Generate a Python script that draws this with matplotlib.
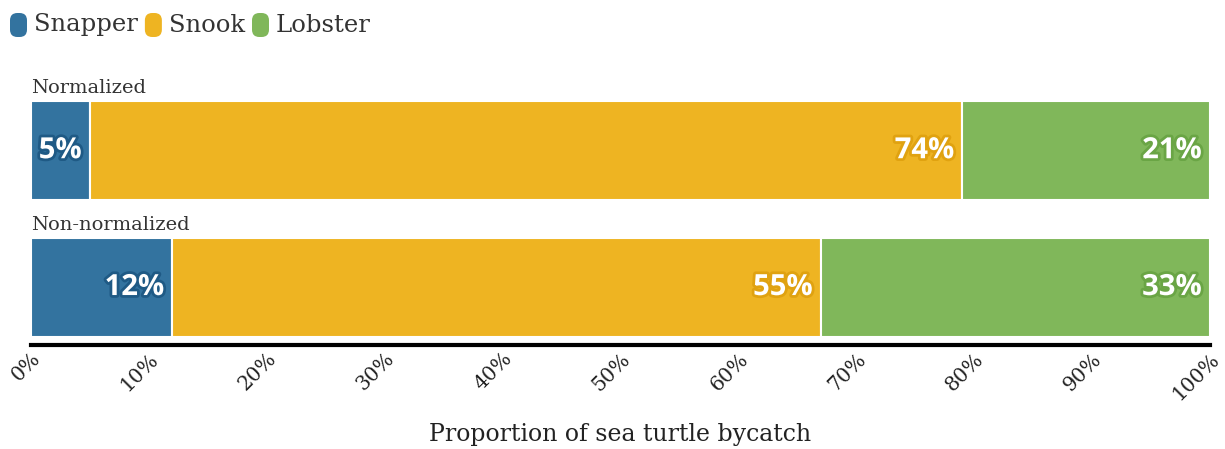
import matplotlib
matplotlib.use("Agg")
import matplotlib.pyplot as plt
import matplotlib.patheffects as pe
from matplotlib.patches import FancyBboxPatch

# Share of sea turtle bycatch by fishery
groups = ["Normalized", "Non-normalized"]
fisheries = ["Snapper", "Snook", "Lobster"]
normalized = [5, 74, 21]
non_normalized = [12, 55, 33]
colors = ["#33739f", "#eeb422", "#80b75a"]
outline = ["#1f5a85", "#e0a210", "#6aa545"]
ticks = [0, 10, 20, 30, 40, 50, 60, 70, 80, 90, 100]
tick_labels = [f"{t}%" for t in ticks]

serif = ["DejaVu Serif"]
sans = ["Open Sans", "DejaVu Sans"]

fig = plt.figure(figsize=(12.25, 4.49), dpi=100)
ax = fig.add_axes([31 / 1225, 1 - 345 / 449, (1210 - 31) / 1225, 275 / 449])

ypos = [1, 0]
height = 0.72
for y, values, name in zip(ypos, [normalized, non_normalized], groups):
    left = 0
    for v, c, oc in zip(values, colors, outline):
        ax.barh(y, v, left=left, height=height, color=c,
                edgecolor="white", linewidth=1.5)
        ax.annotate(f"{v}%", (left + v, y), xytext=(-6, 0), textcoords="offset points",
                    ha="right", va="center", fontsize=21, fontweight="bold",
                    family=sans, color="white",
                    path_effects=[pe.withStroke(linewidth=4, foreground=oc)])
        left += v
    ax.text(0, y + height / 2 + 0.03, name, ha="left", va="bottom",
            fontsize=14, family=serif, color="#333333")

ax.set_xlim(0, 100)
ax.set_ylim(-0.42, 1.59)
ax.set_yticks([])
for s in ["left", "right", "top"]:
    ax.spines[s].set_visible(False)
ax.spines["bottom"].set_linewidth(3)
ax.spines["bottom"].set_color("black")

ax.set_xticks(ticks)
ax.set_xticklabels(tick_labels, rotation=45, ha="right", rotation_mode="anchor",
                   family=serif, fontsize=14.5, color="#222222")
ax.tick_params(axis="x", length=0, pad=3)
ax.set_xlabel("Proportion of sea turtle bycatch", family=serif, fontsize=17,
              color="#222222")
ax.xaxis.set_label_coords(0.5, -0.327)
ax.xaxis.label.set_va("center")

# Legend: rounded swatches followed by names
renderer = fig.canvas.get_renderer()
x = 10
for name, c in zip(fisheries, colors):
    sw = FancyBboxPatch((x / 1225, 1 - 37 / 449), 17 / 1225, 24 / 449,
                        boxstyle="round,pad=0,rounding_size=0.006",
                        transform=fig.transFigure, facecolor=c, edgecolor="none",
                        mutation_aspect=1225 / 449)
    fig.patches.append(sw)
    t = fig.text((x + 24) / 1225, 1 - 25 / 449, name, ha="left", va="center",
                 fontsize=17.5, family=serif, color="#333333")
    bb = t.get_window_extent(renderer)
    x = bb.x1 + 7

fig.savefig("out.png", dpi=100)
